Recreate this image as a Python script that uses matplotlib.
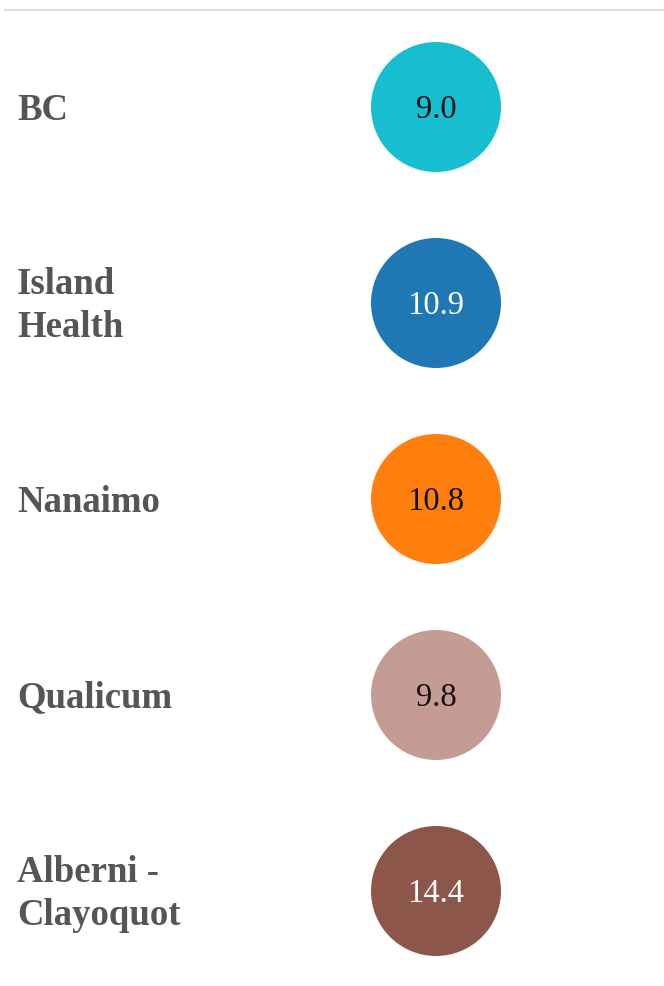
import matplotlib.pyplot as plt
from matplotlib.patches import Circle

# Data
regions = ['BC', 'Island\nHealth', 'Nanaimo', 'Qualicum', 'Alberni -\nClayoquot']
values = [9.0, 10.9, 10.8, 9.8, 14.4]
colors = ['#17becf', '#1f77b4', '#ff7f0e', '#c49c94', '#8c564b']
text_colors = ['#111111', 'white', '#111111', '#111111', 'white']

W, H = 664, 987
fig = plt.figure(figsize=(W / 100, H / 100), dpi=100)
ax = fig.add_axes([0, 0, 1, 1])
ax.set_xlim(0, W)
ax.set_ylim(H, 0)
ax.set_aspect('equal')
ax.axis('off')

# top rule
ax.plot([4, W], [11, 11], color='#dddddd', lw=1.6, solid_capstyle='butt')

y0, step = 108, 196
cx, r = 436, 65
for i, (name, v) in enumerate(zip(regions, values)):
    cy = y0 + i * step
    ax.add_patch(Circle((cx, cy), r, color=colors[i], lw=0))
    ax.text(cx, cy + 2, f'{v:.1f}', ha='center', va='center',
            fontsize=23.5, family='Liberation Serif', color=text_colors[i])
    ax.text(17, cy + 2, name, ha='left', va='center', fontsize=26.5,
            family='Liberation Serif', fontweight='bold', color='#555555',
            linespacing=1.3)

fig.savefig('out.png', dpi=100)
